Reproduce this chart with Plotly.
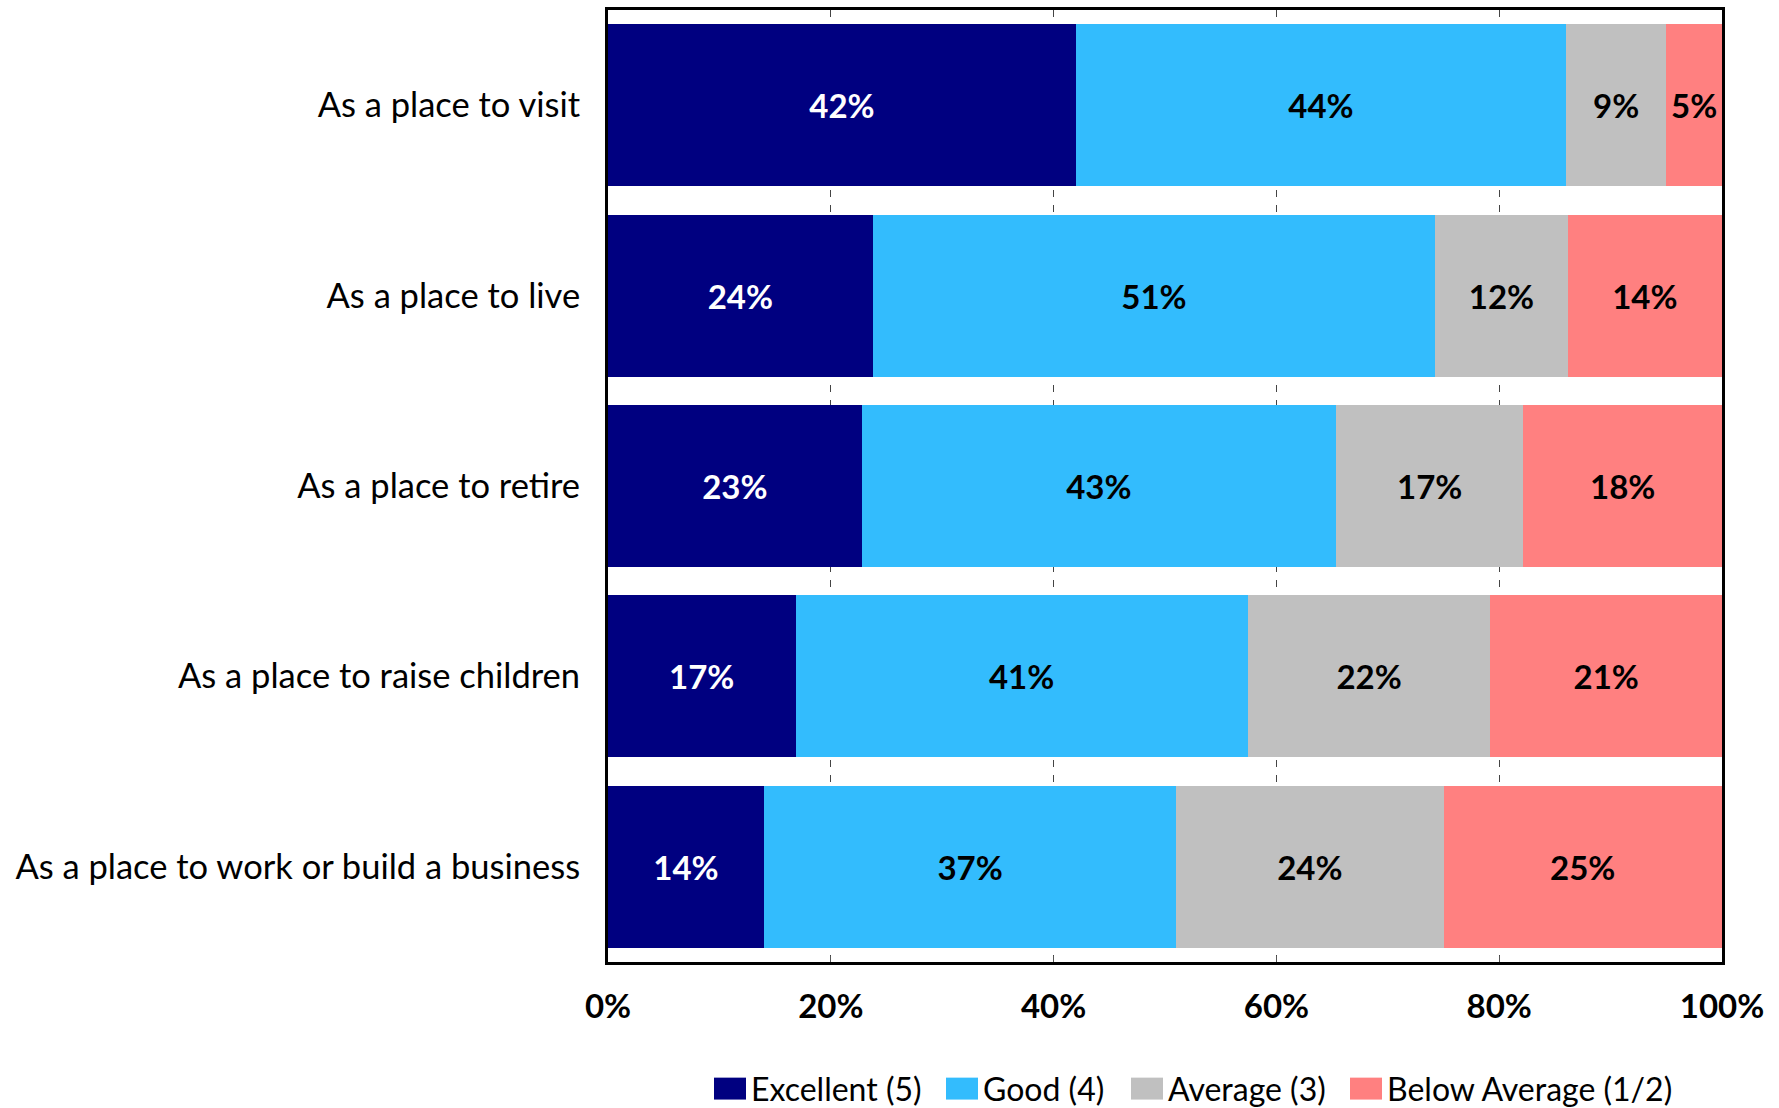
import plotly.graph_objects as go

# Survey categories, top to bottom
categories = [
    "As a place to visit",
    "As a place to live",
    "As a place to retire",
    "As a place to raise children",
    "As a place to work or build a business",
]

# Rating shares (%) per category
excellent = [42, 24, 23, 17, 14]
good = [44, 51, 43, 41, 37]
average = [9, 12, 17, 22, 24]
below_average = [5, 14, 18, 21, 25]

series_names = ["Excellent (5)", "Good (4)", "Average (3)", "Below Average (1/2)"]
series_values = [excellent, good, average, below_average]
series_colors = ["#000080", "#33BCFD", "#C0C0C0", "#FF8080"]
label_colors = ["white", "black", "black", "black"]

tick_vals = [0, 20, 40, 60, 80, 100]

FONT = "Lato"

fig = go.Figure()
for name, vals, color, tcolor in zip(series_names, series_values, series_colors, label_colors):
    fig.add_trace(go.Bar(
        y=categories,
        x=vals,
        name=name,
        orientation="h",
        marker=dict(color=color, line=dict(width=0)),
        text=vals,
        texttemplate="%{text}%",
        textposition="inside",
        insidetextanchor="middle",
        textangle=0,
        constraintext="none",
        insidetextfont=dict(family=FONT, size=33, color=tcolor, weight="bold"),
        showlegend=False,
        hoverinfo="skip",
    ))

# Legend drawn as swatches with labels below the plot
legend_x0 = [714, 946, 1131, 1350]
plot_left, plot_width = 608, 1114
plot_bottom, plot_height = 962, 955


def px_to_paper_x(px):
    return (px - plot_left) / plot_width


def px_to_paper_y(py):
    return (plot_bottom - py) / plot_height


for x0, name, color in zip(legend_x0, series_names, series_colors):
    fig.add_shape(
        type="rect", xref="paper", yref="paper",
        x0=px_to_paper_x(x0), x1=px_to_paper_x(x0 + 32),
        y0=px_to_paper_y(1100), y1=px_to_paper_y(1078),
        fillcolor=color, line=dict(width=0),
    )
    fig.add_annotation(
        xref="paper", yref="paper",
        x=px_to_paper_x(x0 + 35), y=px_to_paper_y(1089),
        text=name, showarrow=False,
        xanchor="left", yanchor="middle",
        font=dict(family=FONT, size=32, color="black"),
    )

fig.update_layout(
    barmode="stack",
    barnorm="percent",
    bargap=0.15,
    width=1779,
    height=1108,
    margin=dict(l=608, r=57, t=7, b=146),
    paper_bgcolor="white",
    plot_bgcolor="white",
    font=dict(family=FONT, color="black"),
)

fig.update_xaxes(
    range=[0, 100],
    tickvals=tick_vals,
    ticktext=[f"{v}%" for v in tick_vals],
    tickfont=dict(family=FONT, size=33, color="black", weight="bold"),
    ticks="inside",
    ticklen=6,
    tickcolor="#555555",
    tickwidth=1,
    ticklabelstandoff=13,
    showgrid=True,
    gridcolor="#444444",
    gridwidth=1,
    griddash="7px,8px",
    zeroline=False,
    showline=True,
    linecolor="black",
    linewidth=3,
    mirror=True,
)

fig.update_yaxes(
    categoryorder="array",
    categoryarray=categories,
    autorange="reversed",
    tickfont=dict(family=FONT, size=34.5, color="black"),
    ticks="",
    ticklabelstandoff=18,
    showgrid=False,
    zeroline=False,
    showline=True,
    linecolor="black",
    linewidth=3,
    mirror=True,
)

fig.write_html("out.html")
